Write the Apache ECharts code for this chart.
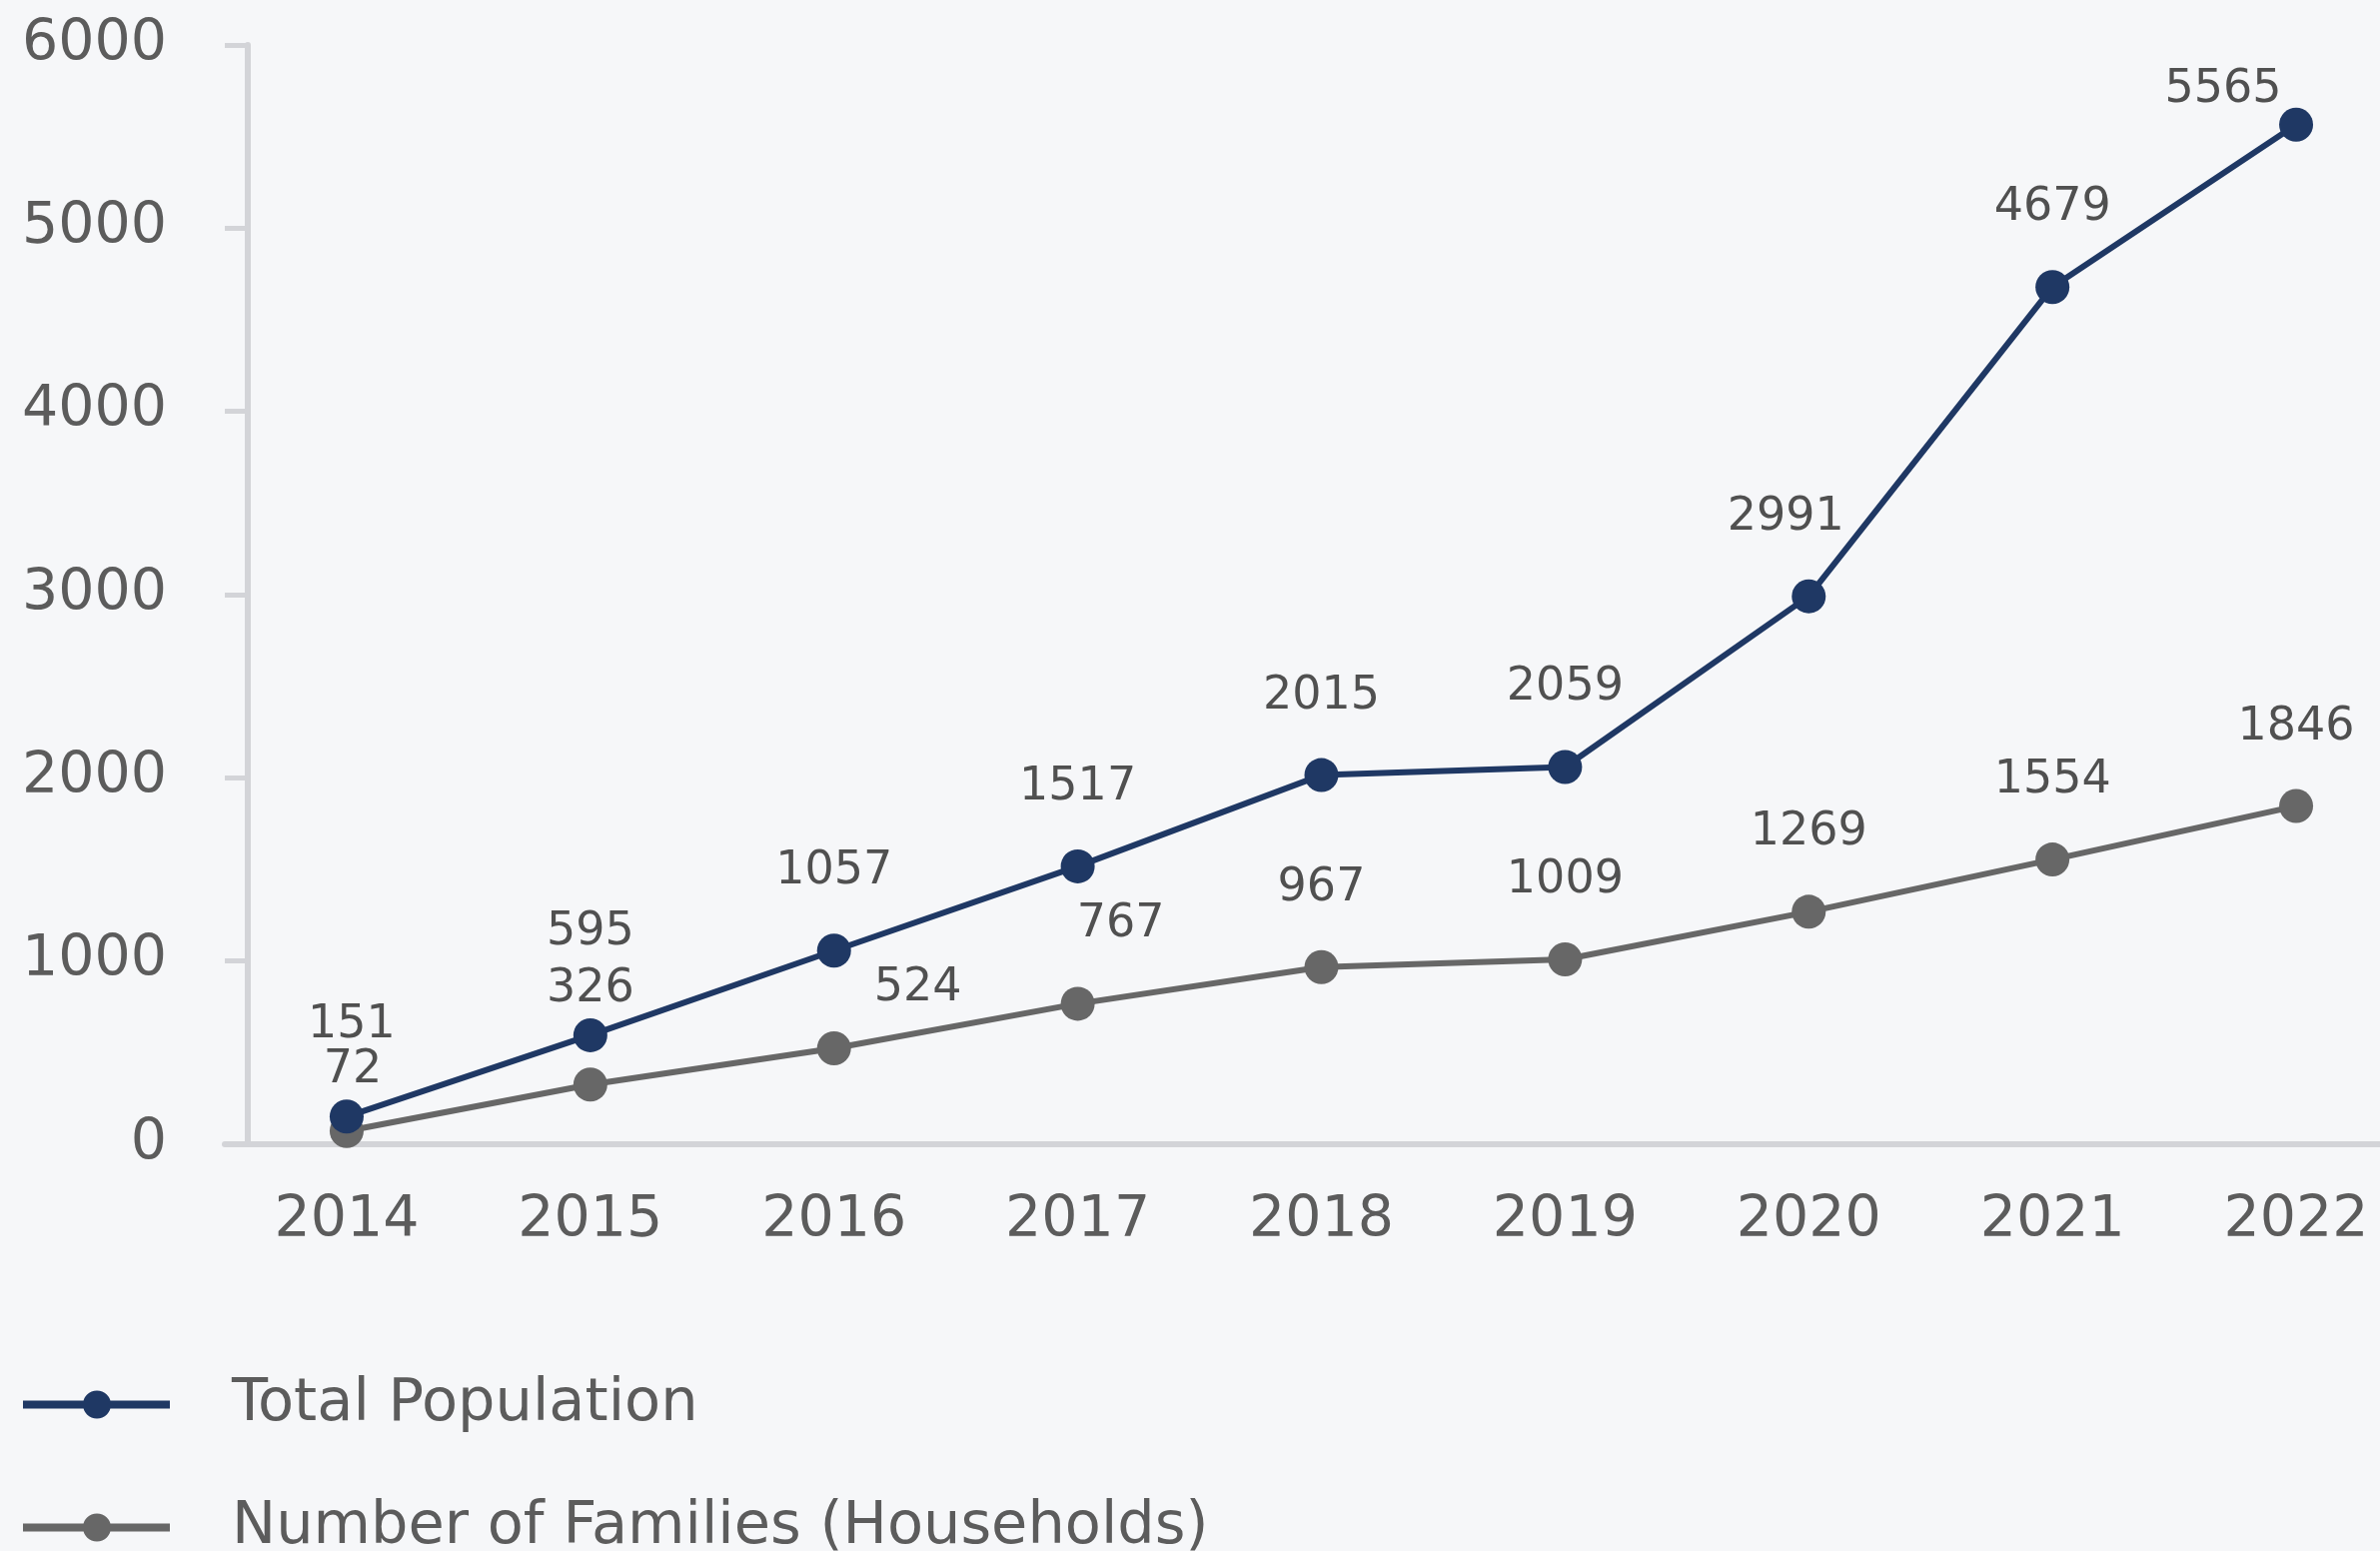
<!DOCTYPE html>
<html>
<head>
<meta charset="utf-8">
<style>
  html, body { margin: 0; padding: 0; background: #f6f7f9; }
  #chart { width: 2382px; height: 1552px; }
</style>
<script src="https://cdn.jsdelivr.net/npm/echarts@6/dist/echarts.min.js"></script>
</head>
<body>
<div id="chart"></div>
<script>
// Population growth by year
const years = ['2014', '2015', '2016', '2017', '2018', '2019', '2020', '2021', '2022'];
const totalPopulation = [151, 595, 1057, 1517, 2015, 2059, 2991, 4679, 5565];
const families = [72, 326, 524, 767, 967, 1009, 1269, 1554, 1846];
const seriesNames = ['Total Population', 'Number of Families (Households)'];
const yTicks = { min: 0, max: 6000, interval: 1000 };

const FONT = '"DejaVu Sans", "Noto Sans", sans-serif';
const NAVY = '#1f3864';
const GREY = '#676767';
const AXIS = '#d3d4d8';
const AXIS_TEXT = '#5c5c5c';

// Legend key: a short bar with a dot in the middle
const LEGEND_ICON = 'path://M0,10 H147 V18 H0 Z M60,14 A14,14 0 1,1 88,14 A14,14 0 1,1 60,14 Z';

// Nudges for labels that would otherwise collide with neighbouring marks
const totalLabelShift = [[5, -12], [0, -24], [0, 0], [0, 0], [0, 0], [0, 0], [-23, 0], [0, 0], [-73, 44]];
const familyLabelShift = [[6, 18], [0, -16], [84, 19], [43, 0], [0, 0], [0, 0], [0, 0], [0, 0], [0, 0]];

function withShift(values, shifts) {
  return values.map((v, i) => ({ value: v, label: { offset: shifts[i] } }));
}

const labelStyle = {
  show: true,
  position: 'top',
  distance: 39,
  fontFamily: FONT,
  fontSize: 46,
  color: '#505050'
};

const chart = echarts.init(document.getElementById('chart'));
chart.setOption({
  backgroundColor: '#f6f7f9',
  animation: false,
  grid: { left: 225, width: 2195, top: 45, height: 1100, containLabel: false, outerBoundsMode: 'none' },
  legend: {
    orient: 'vertical',
    left: 23,
    top: 1376,
    height: 400,
    padding: 0,
    itemWidth: 147,
    itemHeight: 28,
    itemGap: 64,
    icon: LEGEND_ICON,
    textStyle: { fontFamily: FONT, fontSize: 59, lineHeight: 58, color: AXIS_TEXT, padding: [0, 0, 0, 57] },
    data: seriesNames
  },
  xAxis: {
    type: 'category',
    data: years,
    boundaryGap: true,
    axisLine: { lineStyle: { color: AXIS, width: 6 } },
    axisTick: { show: false },
    axisLabel: { fontFamily: FONT, fontSize: 57, color: AXIS_TEXT, margin: 49 },
    splitLine: { show: false }
  },
  yAxis: {
    type: 'value',
    min: yTicks.min,
    max: yTicks.max,
    interval: yTicks.interval,
    offset: -23,
    axisLine: { show: true, lineStyle: { color: AXIS, width: 6 } },
    axisTick: { show: true, length: 23, lineStyle: { color: AXIS, width: 5 } },
    axisLabel: { fontFamily: FONT, fontSize: 57, color: AXIS_TEXT, margin: 81, formatter: v => String(v) },
    splitLine: { show: false }
  },
  series: [
    {
      name: seriesNames[0],
      type: 'line',
      z: 3,
      data: withShift(totalPopulation, totalLabelShift),
      symbol: 'circle',
      symbolSize: 34,
      lineStyle: { color: NAVY, width: 6 },
      itemStyle: { color: NAVY },
      label: labelStyle
    },
    {
      name: seriesNames[1],
      type: 'line',
      z: 2,
      data: withShift(families, familyLabelShift),
      symbol: 'circle',
      symbolSize: 34,
      lineStyle: { color: GREY, width: 6 },
      itemStyle: { color: GREY },
      label: labelStyle
    }
  ]
});
</script>
</body>
</html>
